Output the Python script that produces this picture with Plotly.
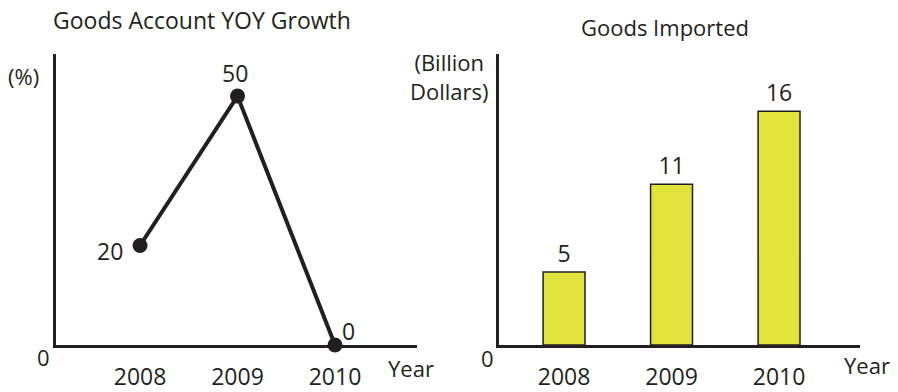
import plotly.graph_objects as go

# Data
years = ["2008", "2009", "2010"]
growth_pct = [20, 50, 0]
imported_bn = [5, 11, 16]

INK = "#231f20"
BAR_FILL = "#e2e23c"
FONT = "Open Sans"
FS = 23
W, H = 898, 392


def px_x(x):
    return x / W


def px_y(y):
    return 1 - y / H


fig = go.Figure()

# Left panel: YOY growth line
fig.add_trace(go.Scatter(
    x=years, y=growth_pct, mode="lines+markers",
    line=dict(color=INK, width=4),
    marker=dict(color=INK, size=15),
    xaxis="x", yaxis="y", cliponaxis=False, showlegend=False,
))

# Value labels beside each point (offsets in pixels); category index on x
label_offsets = [(-30, -6), (-3, 23), (13, 14)]
for idx, (val, (dx, dy)) in enumerate(zip(growth_pct, label_offsets)):
    fig.add_annotation(x=idx, y=val, xref="x", yref="y", text=str(val),
                       showarrow=False, xshift=dx, yshift=dy,
                       font=dict(family=FONT, size=FS, color=INK))

# Right panel: goods imported bars
fig.add_trace(go.Bar(
    x=years, y=imported_bn, width=0.39,
    marker=dict(color=BAR_FILL, line=dict(color=INK, width=1.5)),
    text=[str(v) for v in imported_bn], textposition="outside",
    textfont=dict(family=FONT, size=FS, color=INK),
    xaxis="x2", yaxis="y2", cliponaxis=False, showlegend=False,
))

ydom = [px_y(349.5), px_y(54.5)]
axis_common = dict(showline=True, linecolor=INK, linewidth=3, showgrid=False,
                   zeroline=False, ticks="")

fig.update_layout(
    width=W, height=H,
    margin=dict(l=0, r=0, t=0, b=0),
    paper_bgcolor="white", plot_bgcolor="white",
    font=dict(family=FONT, size=FS, color=INK),
    xaxis=dict(domain=[px_x(56), px_x(417)], type="category",
               range=[-0.862, 2.841], ticklabelstandoff=9,
               tickfont=dict(size=FS), anchor="y", **axis_common),
    yaxis=dict(domain=ydom, range=[0, 58.5], showticklabels=False,
               anchor="x", **axis_common),
    xaxis2=dict(domain=[px_x(499), px_x(860)], type="category",
                range=[-0.605, 2.753], ticklabelstandoff=9,
                tickfont=dict(size=FS), anchor="y2", **axis_common),
    yaxis2=dict(domain=ydom, range=[0, 19.93], showticklabels=False,
                anchor="x2", **axis_common),
)

annotations = [
    ("Goods Account YOY Growth", 202, 20, FS),
    ("Goods Imported", 665, 27, FS - 1),
    ("(%)", 23, 77, FS - 1),
    ("(Billion<br>Dollars)", 449, 77, FS - 1),
    ("0", 43, 362, FS - 1),
    ("Year", 411, 373, FS - 1),
    ("0", 487, 363, FS - 1),
    ("Year", 867, 370, FS - 1),
]
for txt, x, y, size in annotations:
    fig.add_annotation(text=txt, x=px_x(x), y=px_y(y), xref="paper", yref="paper",
                       showarrow=False, xanchor="center", yanchor="middle",
                       font=dict(family=FONT, size=size, color=INK))

fig.write_html("out.html")
